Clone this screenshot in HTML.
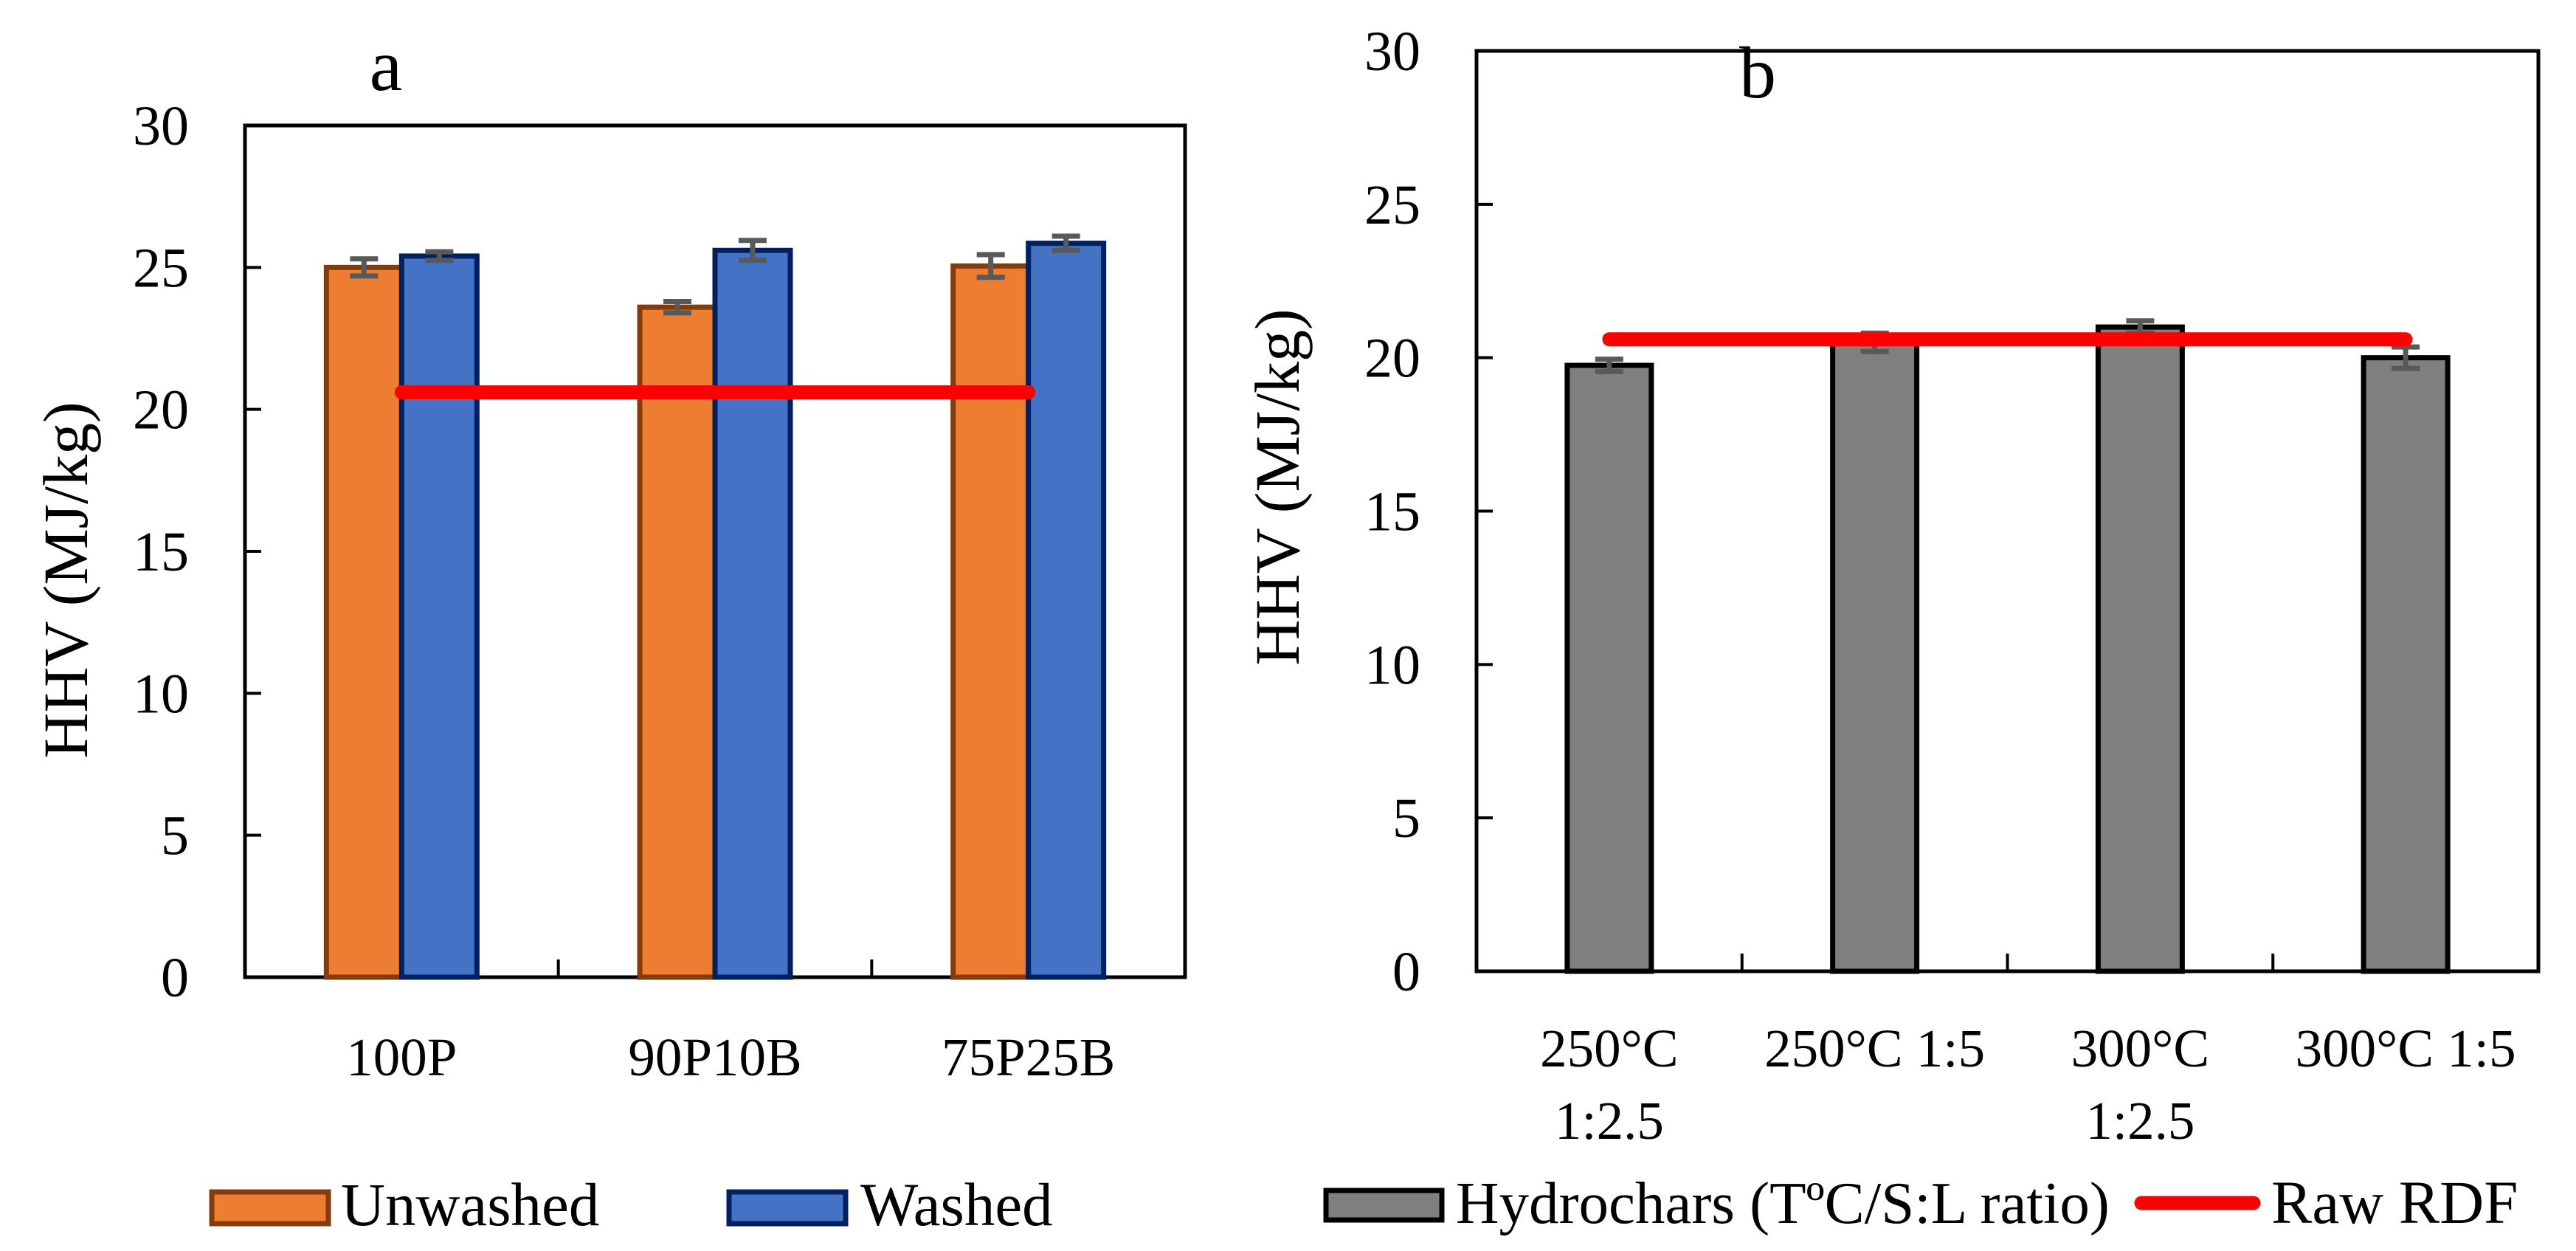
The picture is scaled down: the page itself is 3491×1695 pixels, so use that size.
<!DOCTYPE html>
<html><head><meta charset="utf-8">
<style>
html,body{margin:0;padding:0;background:#fff;}
svg{display:block;font-family:"Liberation Serif",serif;}
</style></head>
<body>
<svg id="chart" width="3491" height="1695" viewBox="0 0 3491 1695" xmlns="http://www.w3.org/2000/svg">
<rect x="0" y="0" width="3491" height="1695" fill="#fff"/>
<g id="pa"></g>
<g id="pb"></g>
</svg>
<script>
const catsA = ["100P", "90P10B", "75P25B"];
const unwashed = [25.0, 23.6, 25.05];
const unwashedErr = [0.3, 0.2, 0.4];
const washed = [25.4, 25.6, 25.85];
const washedErr = [0.15, 0.35, 0.25];
const rawRdfA = 20.6;
const catsB = [["250°C","1:2.5"], ["250°C 1:5"], ["300°C","1:2.5"], ["300°C 1:5"]];
const hydro = [19.75, 20.5, 21.0, 20.0];
const hydroErr = [0.2, 0.3, 0.2, 0.35];
const rawRdfB = 20.6;
const yTicks = [0, 5, 10, 15, 20, 25, 30];

const NS = "http://www.w3.org/2000/svg";
function mk(parent, tag, attrs, text) {
  const el = document.createElementNS(NS, tag);
  for (const k in attrs) el.setAttribute(k, attrs[k]);
  if (text !== undefined) el.textContent = text;
  parent.appendChild(el);
  return el;
}

function axes(g, L, R, T, B, n, yMax) {
  const y = v => B - (v / yMax) * (B - T);
  const cw = (R - L) / n;
  const x = i => L + cw * (i + 0.5);
  const frame = mk(g, "rect", {x: L, y: T, width: R - L, height: B - T, fill: "none", stroke: "#000", "stroke-width": 5});
  
  
  yTicks.forEach(t => {
    const tk = mk(g, "line", {x1: L, x2: L + 22, y1: y(t), y2: y(t), stroke: "#000", "stroke-width": 4});
    
    
    const lb = mk(g, "text", {x: L - 76, y: y(t) + 26, "text-anchor": "end", "font-size": 76, fill: "#000"}, t);
    
    
  });
  for (let i = 1; i < n; i++) {
    const tk = mk(g, "line", {x1: L + cw * i, x2: L + cw * i, y1: B, y2: B - 24, stroke: "#000", "stroke-width": 4});
    
    
  }
  return {x, y, cw};
}

function bar(g, x0, w, v, e, y, fill, stroke, name) {
  const r = mk(g, "rect", {x: x0, y: y(v), width: w, height: y(0) - y(v), fill: fill, stroke: stroke, "stroke-width": 7});
  
  
  const cx = x0 + w / 2;
  const eg = mk(g, "g", {stroke: "#595959", "stroke-width": 7});
  
  
  mk(eg, "line", {x1: cx, x2: cx, y1: y(v + e), y2: y(v - e)});
  mk(eg, "line", {x1: cx - 19, x2: cx + 19, y1: y(v + e), y2: y(v + e)});
  mk(eg, "line", {x1: cx - 19, x2: cx + 19, y1: y(v - e), y2: y(v - e)});
}

// Panel a
(function(){
  const g = document.getElementById("pa");
  const L = 332, R = 1606, T = 170, B = 1324;
  const ax = axes(g, L, R, T, B, catsA.length, 30);
  const bw = 102;
  catsA.forEach((c, i) => {
    bar(g, ax.x(i) - bw, bw, unwashed[i], unwashedErr[i], ax.y, "#ED7D31", "#843C0C", "bar-unwashed-" + c);
    bar(g, ax.x(i), bw, washed[i], washedErr[i], ax.y, "#4472C4", "#002060", "bar-washed-" + c);
    const t = mk(g, "text", {x: ax.x(i), y: 1457, "text-anchor": "middle", "font-size": 73}, c);
    
    
  });
  const ln = mk(g, "line", {x1: ax.x(0), x2: ax.x(catsA.length - 1), y1: ax.y(rawRdfA), y2: ax.y(rawRdfA), stroke: "#FF0000", "stroke-width": 19, "stroke-linecap": "round"});
  
  
  const yt = mk(g, "text", {transform: "translate(118,786) rotate(-90)", "text-anchor": "middle", "font-size": 86}, "HHV (MJ/kg)");
  
  
  const lt = mk(g, "text", {x: 523, y: 122, "text-anchor": "middle", "font-size": 100}, "a");
  
  
  const s1 = mk(g, "rect", {x: 287, y: 1615, width: 158, height: 43, fill: "#ED7D31", stroke: "#843C0C", "stroke-width": 7});
  
  
  const t1 = mk(g, "text", {x: 462, y: 1660, "font-size": 83}, "Unwashed");
  
  
  const s2 = mk(g, "rect", {x: 988, y: 1615, width: 158, height: 43, fill: "#4472C4", stroke: "#002060", "stroke-width": 7});
  
  
  const t2 = mk(g, "text", {x: 1166, y: 1660, "font-size": 83}, "Washed");
  
  
})();

// Panel b
(function(){
  const g = document.getElementById("pb");
  const L = 2001, R = 3440, T = 69, B = 1316;
  const ax = axes(g, L, R, T, B, catsB.length, 30);
  const bw = 114;
  catsB.forEach((c, i) => {
    bar(g, ax.x(i) - bw / 2, bw, hydro[i], hydroErr[i], ax.y, "#7F7F7F", "#000", "bar-hydrochar-" + i);
    c.forEach((line, j) => {
      const t = mk(g, "text", {x: ax.x(i), y: 1445 + j * 98, "text-anchor": "middle", "font-size": 73}, line);
      
      
    });
  });
  const ln = mk(g, "line", {x1: ax.x(0), x2: ax.x(catsB.length - 1), y1: ax.y(rawRdfB), y2: ax.y(rawRdfB), stroke: "#FF0000", "stroke-width": 19, "stroke-linecap": "round"});
  
  
  const yt = mk(g, "text", {transform: "translate(1760,660) rotate(-90)", "text-anchor": "middle", "font-size": 86}, "HHV (MJ/kg)");
  
  
  const lt = mk(g, "text", {x: 2382, y: 132, "text-anchor": "middle", "font-size": 100}, "b");
  
  
  const s1 = mk(g, "rect", {x: 1797, y: 1613, width: 157, height: 40, fill: "#7F7F7F", stroke: "#000", "stroke-width": 7});
  
  
  const t1 = mk(g, "text", {x: 1973, y: 1657, "font-size": 81}, "Hydrochars (TºC/S:L ratio)");
  
  
  const s2 = mk(g, "line", {x1: 2902, x2: 3054, y1: 1630, y2: 1630, stroke: "#FF0000", "stroke-width": 19, "stroke-linecap": "round"});
  
  
  const t2 = mk(g, "text", {x: 3078, y: 1657, "font-size": 83}, "Raw RDF");
  
  
})();
</script>
</body></html>
